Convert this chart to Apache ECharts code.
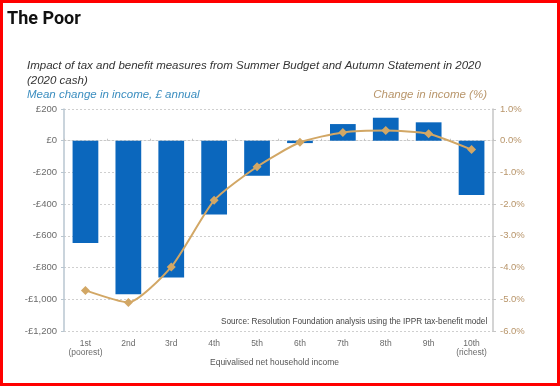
<!DOCTYPE html>
<html>
<head>
<meta charset="utf-8">
<script src="https://cdn.jsdelivr.net/npm/echarts@6/dist/echarts.min.js"></script>
<style>
html,body{margin:0;padding:0;background:#fff;}
#c{width:560px;height:386px;}
</style>
</head>
<body>
<div id="c"></div>
<script>
const categories = ['1st\n(poorest)', '2nd', '3rd', '4th', '5th', '6th', '7th', '8th', '9th', '10th\n(richest)'];
const meanChange = [-645, -968, -863, -465, -221, -15, 105, 145, 116, -343];
const pctChange = [-4.72, -5.10, -3.98, -1.88, -0.82, -0.05, 0.26, 0.32, 0.22, -0.28];
const leftTicks = { min: -1200, max: 200, interval: 200 };
const rightTicks = { min: -6, max: 1, interval: 1 };

const chart = echarts.init(document.getElementById('c'), null, { renderer: 'canvas' });
const grey = '#6b6b6b';
const tan = '#b8956a';
const font = 'Liberation Sans, Arial, sans-serif';

function poundFmt(v) {
  const a = Math.abs(v).toLocaleString('en-GB');
  return (v < 0 ? '-' : '') + '£' + a;
}

chart.setOption({
  animation: false,
  backgroundColor: '#fff',
  grid: { left: 64, right: 67, top: 109, bottom: 55 },
  xAxis: [
    {
      type: 'category', data: categories, position: 'bottom',
      axisLine: { show: false }, axisTick: { show: false },
      axisLabel: { interval: 0, color: grey, fontSize: 8.5, fontFamily: font, lineHeight: 9, margin: 8 }
    },
    {
      type: 'category', data: categories, position: 'bottom',
      axisLine: { show: true, onZero: true, lineStyle: { color: '#c8c8c8', width: 1, type: [2, 2] } },
      axisTick: { show: true, interval: 0, length: 2, inside: true, lineStyle: { color: '#c4c4c4' } },
      axisLabel: { show: false }
    }
  ],
  yAxis: [
    {
      type: 'value', min: leftTicks.min, max: leftTicks.max, interval: leftTicks.interval,
      axisLine: { show: true, lineStyle: { color: '#b9c6d0', width: 1.5 } },
      axisTick: { show: true, length: 3, lineStyle: { color: '#b9c6d0' } },
      axisLabel: { color: grey, fontSize: 9.5, fontFamily: font, margin: 7, formatter: poundFmt },
      splitLine: { show: true, lineStyle: { color: '#cfcfcf', type: [2, 2], width: 1 } }
    },
    {
      type: 'value', min: rightTicks.min, max: rightTicks.max, interval: rightTicks.interval,
      position: 'right',
      axisLine: { show: true, lineStyle: { color: '#c6c6c6', width: 1.5 } },
      axisTick: { show: true, length: 3, lineStyle: { color: '#c6c6c6' } },
      axisLabel: { color: tan, fontSize: 9.5, fontFamily: font, margin: 7, formatter: v => v.toFixed(1) + '%' },
      splitLine: { show: false }
    }
  ],
  series: [
    {
      type: 'bar', data: meanChange, xAxisIndex: 0, yAxisIndex: 0,
      barWidth: '60%', itemStyle: { color: '#0b67bd' }
    },
    {
      type: 'line', data: pctChange, xAxisIndex: 0, yAxisIndex: 1,
      smooth: 0.2, symbol: 'diamond', symbolSize: 9,
      lineStyle: { color: '#d2a765', width: 2 },
      itemStyle: { color: '#d2a765' }
    }
  ],
  graphic: [
    { type: 'rect', shape: { x: 1.5, y: 1.5, width: 557, height: 383 }, style: { fill: 'none', stroke: '#ff0000', lineWidth: 3 }, silent: true },
    { type: 'text', left: 7, top: 10, style: { text: 'The Poor', font: 'bold 18px Roboto, sans-serif', fill: '#111' } },
    { type: 'text', left: 27, top: 60, style: { text: 'Impact of tax and benefit measures from Summer Budget and Autumn Statement in 2020', font: 'italic 11.5px ' + font, fill: '#333' } },
    { type: 'text', left: 27, top: 75, style: { text: '(2020 cash)', font: 'italic 11.5px ' + font, fill: '#333' } },
    { type: 'text', left: 27, top: 89, style: { text: 'Mean change in income, £ annual', font: 'italic 11.5px ' + font, fill: '#3a8dbf' } },
    { type: 'text', right: 73, top: 89, style: { text: 'Change in income (%)', font: 'italic 11.5px ' + font, fill: tan } },
    { type: 'text', left: 221, top: 318, style: { text: 'Source: Resolution Foundation analysis using the IPPR tax-benefit model', font: '8.2px ' + font, fill: '#444' } },
    { type: 'text', left: 210, top: 358, style: { text: 'Equivalised net household income', font: '8.5px ' + font, fill: '#555' } }
  ]
});
</script>
</body>
</html>
